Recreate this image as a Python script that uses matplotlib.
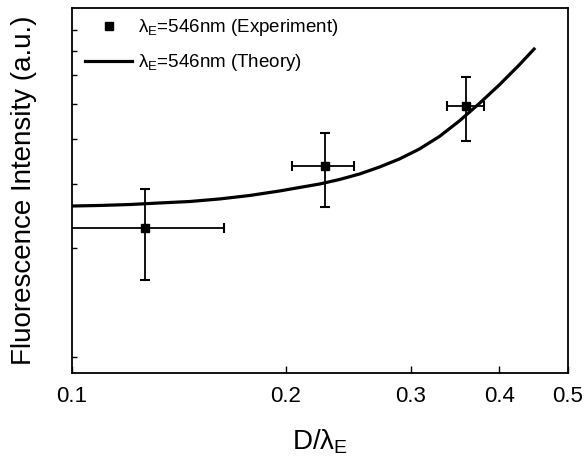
import matplotlib
matplotlib.use("Agg")
import matplotlib.pyplot as plt
from matplotlib.lines import Line2D
from matplotlib.ticker import FixedLocator, NullFormatter, NullLocator

plt.rcParams['font.family'] = ['Liberation Sans', 'DejaVu Sans']
plt.rcParams['mathtext.fontset'] = 'custom'
plt.rcParams['mathtext.rm'] = 'Liberation Sans'
plt.rcParams['mathtext.it'] = 'Liberation Sans'

# Experimental data
exp_x = [0.1267, 0.227, 0.3594]
exp_xerr = [0.037, 0.0225, 0.0215]
exp_y = [2.27, 3.37, 4.94]
exp_yerr = [0.635, 0.78, 1.0]

# Theory curve
theory_x = [0.1, 0.1095, 0.1207, 0.1330, 0.1466, 0.1615, 0.1780, 0.1961, 0.2093,
            0.2234, 0.2382, 0.2542, 0.2712, 0.2893, 0.3087, 0.3294, 0.3513,
            0.3749, 0.3999, 0.4267, 0.4479]
theory_y = [2.613, 2.622, 2.638, 2.664, 2.689, 2.733, 2.794, 2.875, 2.940,
            3.006, 3.093, 3.203, 3.348, 3.524, 3.755, 4.066, 4.486,
            5.015, 5.641, 6.408, 7.094]

x_ticks = [0.1, 0.2, 0.3, 0.4, 0.5]
x_ticklabels = ['0.1', '0.2', '0.3', '0.4', '0.5']
y_ticks = [1, 2, 3, 4, 5, 6, 7, 8]

label_exp = r'$\mathregular{\lambda_E}$=546nm (Experiment)'
label_th = r'$\mathregular{\lambda_E}$=546nm (Theory)'

fig = plt.figure(figsize=(5.84, 4.57), dpi=100)
ax = fig.add_axes([0.1233, 0.1838, 0.8493, 0.7987])

ax.errorbar(exp_x, exp_y, xerr=exp_xerr, yerr=exp_yerr, fmt='s', color='black',
            markersize=5.5, elinewidth=1.3, capsize=3.3, capthick=1.5)
ax.plot(theory_x, theory_y, color='black', linewidth=2.3)

ax.set_xscale('log')
ax.set_yscale('log')
ax.set_xlim(0.1, 0.5)
ax.set_ylim(0.903, 9.21)

ax.xaxis.set_major_locator(FixedLocator(x_ticks))
ax.xaxis.set_minor_locator(NullLocator())
ax.set_xticklabels(x_ticklabels)
ax.yaxis.set_major_locator(FixedLocator(y_ticks))
ax.yaxis.set_minor_locator(NullLocator())
ax.yaxis.set_major_formatter(NullFormatter())

ax.tick_params(axis='x', direction='in', length=5, width=1, labelsize=16, pad=9,
               top=False)
ax.tick_params(axis='y', direction='in', length=3.5, width=1, right=False)
for s in ax.spines.values():
    s.set_linewidth(1.3)

ax.set_xlabel(r'D/$\mathregular{\lambda_E}$', fontsize=20)
ax.xaxis.set_label_coords(0.5, -0.148)
ax.set_ylabel('Fluorescence Intensity (a.u.)', fontsize=20)
ax.yaxis.set_label_coords(-0.07, 0.5)

handles = [Line2D([], [], marker='s', color='black', linestyle='none', markersize=6),
           Line2D([], [], color='black', linewidth=2.3)]
leg = ax.legend(handles, [label_exp, label_th], loc='upper left', frameon=False,
                fontsize=13.5, handlelength=2.5, borderaxespad=0, borderpad=0,
                bbox_to_anchor=(0.027, 0.975), handletextpad=0.3, labelspacing=0.75)

fig.savefig('out.png', dpi=100)
